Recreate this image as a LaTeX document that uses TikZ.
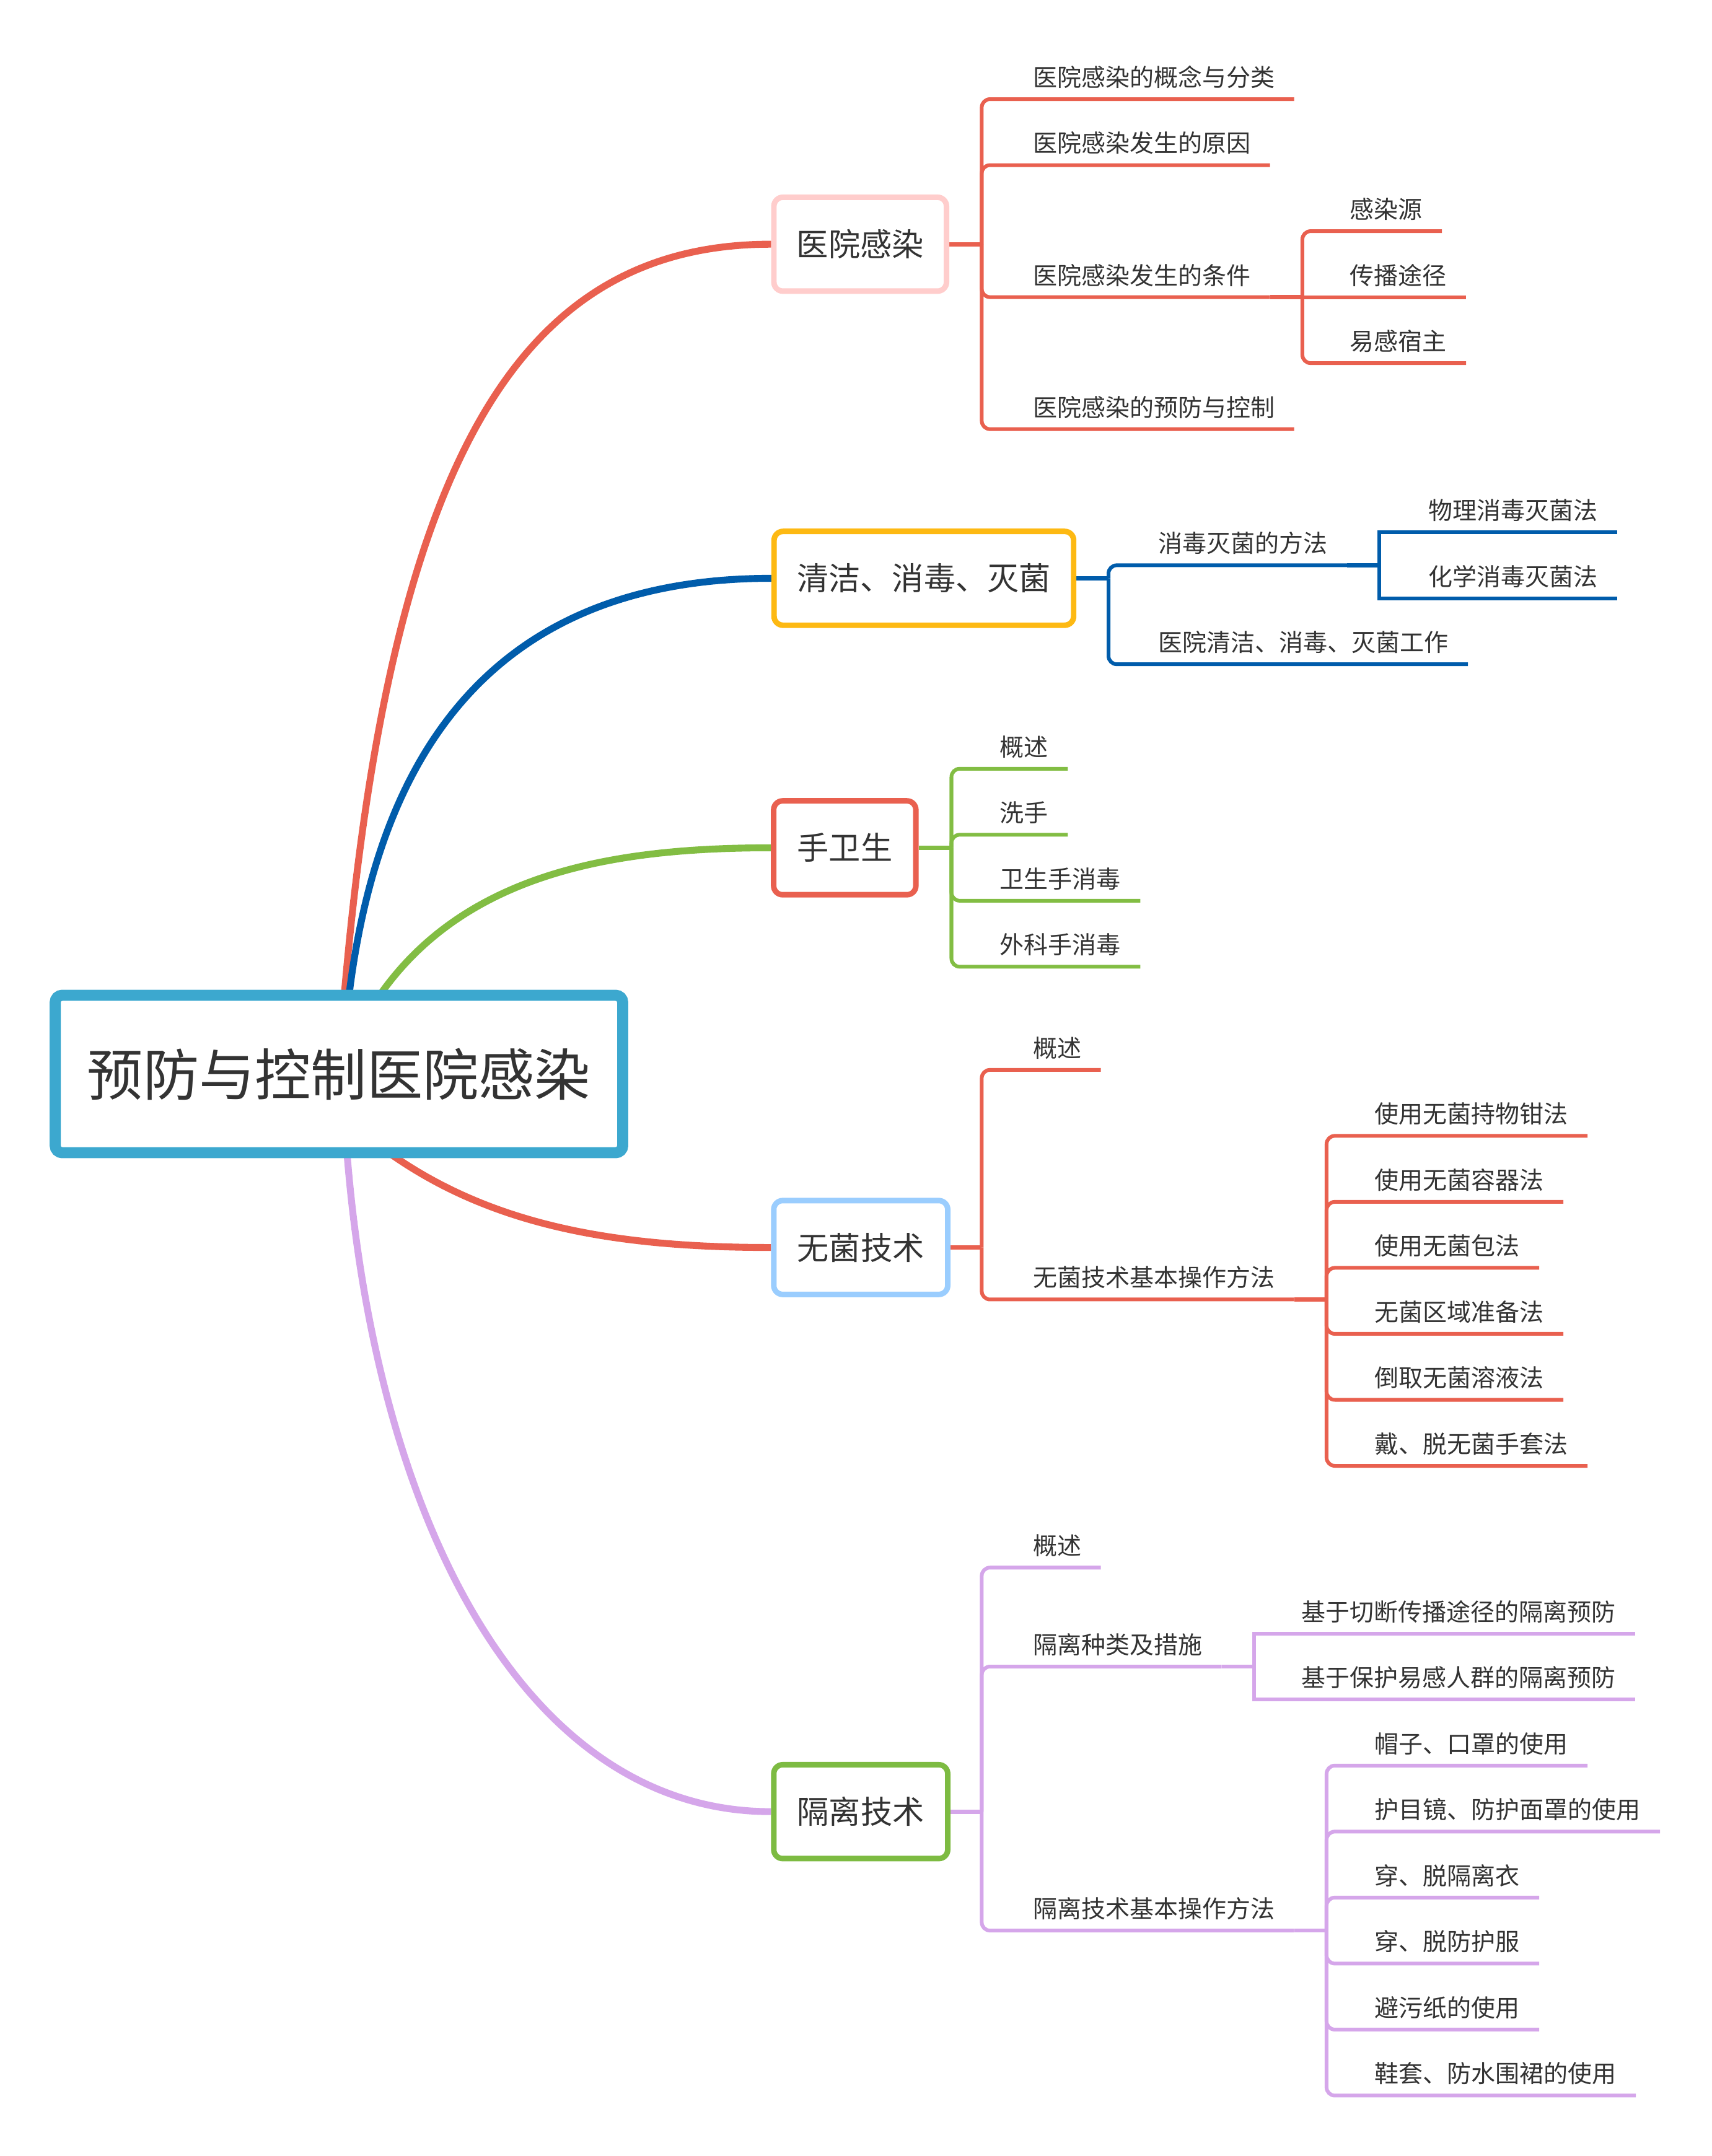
\documentclass[tikz,border=0pt]{standalone}
\usepackage{fontspec}
\setmainfont{Noto Sans CJK SC}
\usetikzlibrary{calc,backgrounds}
\definecolor{cred}{HTML}{E9604F}
\definecolor{cblue}{HTML}{005CAB}
\definecolor{cgreen}{HTML}{82BD43}
\definecolor{cpurple}{HTML}{D5A6EA}
\definecolor{cyellow}{HTML}{FDB913}
\definecolor{clblue}{HTML}{9ACDFE}
\definecolor{cpink}{HTML}{FFCDCC}
\definecolor{cgreenb}{HTML}{7DBB42}
\definecolor{croot}{HTML}{3CA8CF}
\definecolor{ctext}{HTML}{333333}
\tikzset{
  leaf/.style={text=ctext, inner sep=0pt, anchor=west, font=\fontsize{17.5pt}{21pt}\selectfont},
  topic/.style={draw=#1, line width=4pt, rounded corners=6.5pt, fill=white, text=ctext,
    font=\fontsize{23pt}{27pt}\selectfont, minimum height=68pt, inner sep=0pt},
  mainline/.style={draw=#1, line width=5pt},
  link/.style={draw=#1, line width=3pt},
  twig/.style={draw=#1, line width=2.7pt, rounded corners=6pt},
  twigsq/.style={draw=#1, line width=2.7pt},
}
\begin{document}
\begin{tikzpicture}[x=0.998pt,y=-0.996pt]
\useasboundingbox (1.5pt,0.1pt) rectangle (1241.5pt,-1561.7pt);
% root
\node[draw=croot, line width=8pt, rounded corners=5pt, fill=white, minimum width=411pt,
  minimum height=114pt, inner sep=0pt, text=ctext, font=\fontsize{40.5pt}{46pt}\selectfont]
  (root) at (247.5,781) {预防与控制医院感染};
% topics
\node[topic=cpink, minimum width=125pt] (n1) at (625.8,177.5) {医院感染};
\node[topic=cyellow, minimum width=217pt] (n2) at (672,420.5) {清洁、消毒、灭菌};
\node[topic=cred, minimum width=103pt] (n3) at (614.6,616.5) {手卫生};
\node[topic=clblue, minimum width=126pt] (n4) at (626.2,907.2) {无菌技术};
\node[topic=cgreenb, minimum width=126pt] (n5) at (626.2,1317.5) {隔离技术};
% leaves
\node[leaf] (a11) at (751,56) {医院感染的概念与分类};
\node[leaf] (a12) at (751,104) {医院感染发生的原因};
\node[leaf] (a13) at (751,200) {医院感染发生的条件};
\node[leaf] (b131) at (981,152) {感染源};
\node[leaf] (b132) at (981,200) {传播途径};
\node[leaf] (b133) at (981,248) {易感宿主};
\node[leaf] (a14) at (751,296) {医院感染的预防与控制};
\node[leaf] (a21) at (842,395) {消毒灭菌的方法};
\node[leaf] (b211) at (1038,371) {物理消毒灭菌法};
\node[leaf] (b212) at (1038,419) {化学消毒灭菌法};
\node[leaf] (a22) at (842,467) {医院清洁、消毒、灭菌工作};
\node[leaf] (a31) at (727,543) {概述};
\node[leaf] (a32) at (727,591) {洗手};
\node[leaf] (a33) at (727,639) {卫生手消毒};
\node[leaf] (a34) at (727,687) {外科手消毒};
\node[leaf] (a41) at (751,762) {概述};
\node[leaf] (a42) at (751,929) {无菌技术基本操作方法};
\node[leaf] (b421) at (999,810) {使用无菌持物钳法};
\node[leaf] (b422) at (999,858) {使用无菌容器法};
\node[leaf] (b423) at (999,906) {使用无菌包法};
\node[leaf] (b424) at (999,954) {无菌区域准备法};
\node[leaf] (b425) at (999,1002) {倒取无菌溶液法};
\node[leaf] (b426) at (999,1050) {戴、脱无菌手套法};
\node[leaf] (a51) at (751,1124) {概述};
\node[leaf] (a52) at (751,1196) {隔离种类及措施};
\node[leaf] (b521) at (946,1172) {基于切断传播途径的隔离预防};
\node[leaf] (b522) at (946,1220) {基于保护易感人群的隔离预防};
\node[leaf] (a53) at (751,1388) {隔离技术基本操作方法};
\node[leaf] (b531) at (999,1268) {帽子、口罩的使用};
\node[leaf] (b532) at (999,1316) {护目镜、防护面罩的使用};
\node[leaf] (b533) at (999,1364) {穿、脱隔离衣};
\node[leaf] (b534) at (999,1412) {穿、脱防护服};
\node[leaf] (b535) at (999,1460) {避污纸的使用};
\node[leaf] (b536) at (999,1508) {鞋套、防水围裙的使用};
% junctions
\coordinate (j1) at (714,177.5);
\coordinate (j2) at (806,420.5);
\coordinate (j3) at (692,616.5);
\coordinate (j4) at (714,907.2);
\coordinate (j5) at (714,1317.5);
\coordinate (k13) at ($(a13.east)+(37.5,16)$);
\coordinate (k21) at ($(a21.east)+(37.5,16)$);
\coordinate (k42) at ($(a42.east)+(37.5,16)$);
\coordinate (k52) at ($(a52.east)+(37.5,16)$);
\coordinate (k53) at ($(a53.east)+(37.5,16)$);
\begin{pgfonlayer}{background}
% main curves
\draw[mainline=cred] ($(root.center)+(2.5,-41)$) .. controls (283,330) and (380,177.5) .. (n1.west);
\draw[mainline=cblue] ($(root.center)+(5.5,-41)$) .. controls (271,560) and (350,420.5) .. (n2.west);
\draw[mainline=cgreen] (root.center) .. controls (300,640) and (430,616.5) .. (n3.west);
\draw[mainline=cred] ($(root.center)+(22.5,47)$) .. controls (347,889) and (440,907.2) .. (n4.west);
\draw[mainline=cpurple] ($(root.center)+(4.5,39)$) .. controls (270,1100) and (380,1317.5) .. (n5.west);
% topic links
\draw[link=cred] (n1.east) -- (j1);
\draw[link=cblue] (n2.east) -- (j2);
\draw[link=cgreen] (n3.east) -- (j3);
\draw[link=cred] (n4.east) -- (j4);
\draw[link=cpurple] (n5.east) -- (j5);
% subtree 1
\draw[twig=cred] (j1) |- ($(a11.east)+(14,16)$);
\draw[twig=cred] (j1) |- ($(a12.east)+(14,16)$);
\draw[twig=cred] (j1) |- ($(a13.east)+(14,16)$);
\draw[twig=cred] (j1) |- ($(a14.east)+(14,16)$);
\draw[link=cred] ($(a13.east)+(14,16)$) -- (k13);
\draw[twig=cred] (k13) |- ($(b131.east)+(14,16)$);
\draw[twig=cred] (k13) -- ($(b132.east)+(14,16)$);
\draw[twig=cred] (k13) |- ($(b133.east)+(14,16)$);
% subtree 2
\draw[twig=cblue] (j2) |- ($(a21.east)+(14,16)$);
\draw[twig=cblue] (j2) |- ($(a22.east)+(14,16)$);
\draw[link=cblue] ($(a21.east)+(14,16)$) -- (k21);
\draw[twigsq=cblue] (k21) |- ($(b211.east)+(14,16)$);
\draw[twigsq=cblue] (k21) |- ($(b212.east)+(14,16)$);
% subtree 3
\draw[twig=cgreen] (j3) |- ($(a31.east)+(14,16)$);
\draw[twig=cgreen] (j3) |- ($(a32.east)+(14,16)$);
\draw[twig=cgreen] (j3) |- ($(a33.east)+(14,16)$);
\draw[twig=cgreen] (j3) |- ($(a34.east)+(14,16)$);
% subtree 4
\draw[twig=cred] (j4) |- ($(a41.east)+(14,16)$);
\draw[twig=cred] (j4) |- ($(a42.east)+(14,16)$);
\draw[link=cred] ($(a42.east)+(14,16)$) -- (k42);
\foreach \b in {b421,b422,b423,b424,b425,b426}
  \draw[twig=cred] (k42) |- ($(\b.east)+(14,16)$);
% subtree 5
\draw[twig=cpurple] (j5) |- ($(a51.east)+(14,16)$);
\draw[twig=cpurple] (j5) |- ($(a52.east)+(14,16)$);
\draw[twig=cpurple] (j5) |- ($(a53.east)+(14,16)$);
\draw[link=cpurple] ($(a52.east)+(14,16)$) -- (k52);
\draw[twigsq=cpurple] (k52) |- ($(b521.east)+(14,16)$);
\draw[twigsq=cpurple] (k52) |- ($(b522.east)+(14,16)$);
\draw[link=cpurple] ($(a53.east)+(14,16)$) -- (k53);
\foreach \b in {b531,b532,b533,b534,b535,b536}
  \draw[twig=cpurple] (k53) |- ($(\b.east)+(14,16)$);
\end{pgfonlayer}
\end{tikzpicture}
\end{document}
